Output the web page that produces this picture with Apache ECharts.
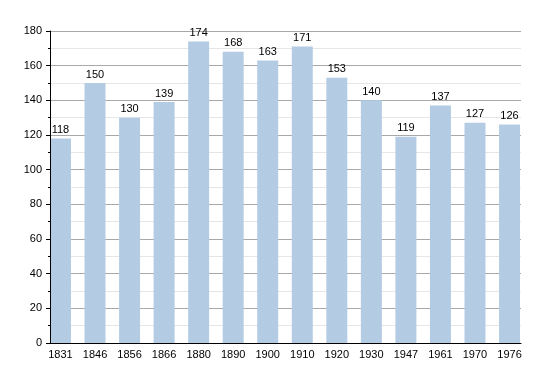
<!DOCTYPE html>
<html><head><meta charset="utf-8">
<script src="https://cdn.jsdelivr.net/npm/echarts@6/dist/echarts.min.js"></script>
<style>html,body{margin:0;padding:0;background:#fff}#c{width:550px;height:373px}</style>
</head><body><div id="c"></div>
<script>
const years = ['1831','1846','1856','1866','1880','1890','1900','1910','1920','1930','1947','1961','1970','1976'];
const population = [118,150,130,139,174,168,163,171,153,140,119,137,127,126];
const yMin = 0, yMax = 180, yStep = 20;

const font = 'Liberation Sans, Arial, sans-serif';
const chart = echarts.init(document.getElementById('c'), null, {renderer:'canvas'});
chart.setOption({
  animation:false,
  grid:[
    {left:50, right:29, top:31, bottom:30},
    {left:43.2, right:23.2, top:31, bottom:30}
  ],
  xAxis:[
    {gridIndex:0, type:'value', min:0, max:1, z:10,
     axisLine:{show:true, onZero:false, lineStyle:{color:'#000', width:1}},
     axisTick:{show:false}, axisLabel:{show:false}, splitLine:{show:false}},
    {gridIndex:1, type:'category', data:years, boundaryGap:true,
     axisLine:{show:false}, axisTick:{show:false},
     axisLabel:{color:'#000', fontSize:11, fontFamily:font, margin:6, interval:0}}
  ],
  yAxis:[
    {gridIndex:0, type:'value', min:yMin, max:yMax, interval:yStep, position:'left', z:0,
     axisLine:{show:false}, axisTick:{show:false}, axisLabel:{show:false},
     splitLine:{show:true, lineStyle:{color:'#a8a8a8', width:1}},
     minorTick:{show:false, splitNumber:2},
     minorSplitLine:{show:true, lineStyle:{color:'#e6e6e6', width:1}}},
    {gridIndex:0, type:'value', min:yMin, max:yMax, interval:yStep, position:'left', z:10,
     axisLine:{show:true, lineStyle:{color:'#000', width:1}},
     axisTick:{show:true, length:4, lineStyle:{color:'#000'}},
     minorTick:{show:true, splitNumber:2, length:2, lineStyle:{color:'#000'}},
     splitLine:{show:false},
     axisLabel:{color:'#000', fontSize:11, fontFamily:font, margin:8}},
    {gridIndex:1, type:'value', min:yMin, max:yMax, show:false}
  ],
  series:[{
    type:'bar', xAxisIndex:1, yAxisIndex:2, data:population, barWidth:21,
    itemStyle:{color:'#b3cce4'},
    label:{show:true, position:'top', distance:3, color:'#000', fontSize:11, fontFamily:font}
  }]
});
</script></body></html>
